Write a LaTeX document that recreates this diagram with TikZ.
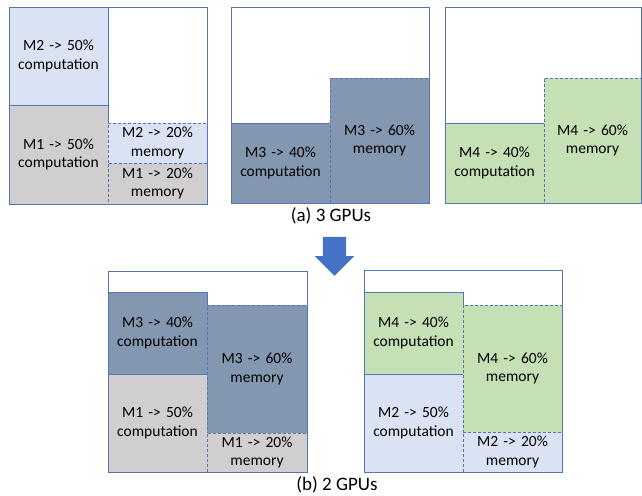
\documentclass[tikz,border=0pt]{standalone}
\usepackage{fontspec}
\setmainfont{Carlito}
\usetikzlibrary{shapes.arrows}
\definecolor{lblue}{RGB}{218,227,243}
\definecolor{lgray}{RGB}{208,206,206}
\definecolor{slate}{RGB}{132,151,176}
\definecolor{lgreen}{RGB}{197,224,180}
\definecolor{edge}{RGB}{84,118,180}
\definecolor{arrowblue}{RGB}{68,114,196}
\tikzset{
  blk/.style={draw=edge, line width=0.8pt, inner sep=0pt, outer sep=0pt, anchor=north west,
    align=center, font=\fontsize{15.5}{18.5}\selectfont},
  comp/.style={blk},
  mem/.style={blk, dash pattern=on 3pt off 2pt},
  gpu/.style={draw=edge, line width=0.8pt, inner sep=0pt, outer sep=0pt, anchor=north west},
  caption/.style={font=\fontsize{19}{22}\selectfont}
}
\begin{document}
\begin{tikzpicture}[x=1pt,y=-1pt]
\useasboundingbox (0,0) rectangle (642,495);
%computation blocks
\foreach\n/\xa/\ya/\xb/\yb/\c/\t in {
  cA/9/7/108/105/lblue/M2 -> 50\%,
  cB/9/105/108/204/lgray/M1 -> 50\%,
  cC/231/123/330/203/slate/M3 -> 40\%,
  cD/445/123/544/203/lgreen/M4 -> 40\%,
  cE/108/292/207/374/slate/M3 -> 40\%,
  cF/108/374/207/472/lgray/M1 -> 50\%,
  cG/364/292/463/374/lgreen/M4 -> 40\%,
  cH/364/374/463/472/lblue/M2 -> 50\%} {
  \node[comp, fill=\c, minimum width={(\xb-\xa)*1pt}, minimum height={(\yb-\ya)*1pt},
    text width={(\xb-\xa)*1pt}] (\n) at (\xa,\ya) {\t\\computation};
}
%memory blocks
\foreach\n/\xa/\ya/\xb/\yb/\c/\t in {
  mA/108/123/207/163/lblue/M2 -> 20\%,
  mB/108/163/207/204/lgray/M1 -> 20\%,
  mC/330/78/429/203/slate/M3 -> 60\%,
  mD/544/78/641/203/lgreen/M4 -> 60\%,
  mE/207/305/307/433/slate/M3 -> 60\%,
  mF/207/433/307/472/lgray/M1 -> 20\%,
  mG/463/305/562/432/lgreen/M4 -> 60\%,
  mH/463/432/562/472/lblue/M2 -> 20\%} {
  \node[mem, fill=\c, minimum width={(\xb-\xa)*1pt}, minimum height={(\yb-\ya)*1pt},
    text width={(\xb-\xa)*1pt}] (\n) at (\xa,\ya) {\t\\memory};
}
%gpu frames
\foreach\n/\xa/\ya/\xb/\yb in {ga/9/7/207/204, gb/231/7/429/203, gc/445/7/641/203,
  gd/108/271/307/472, ge/364/270/562/472} {
  \node[gpu, minimum width={(\xb-\xa)*1pt}, minimum height={(\yb-\ya)*1pt}] (\n) at (\xa,\ya) {};
}
\node[caption] (capa) at (331,216) {(a) 3 GPUs};
\node[caption] (capb) at (337,485) {(b) 2 GPUs};
\node[single arrow, fill=arrowblue, draw=none, rotate=-90, inner xsep=0pt, inner ysep=11.5pt,
  minimum height=39pt, single arrow head extend=8pt] (down) at (334.5,250.5) {};
\end{tikzpicture}
\end{document}
